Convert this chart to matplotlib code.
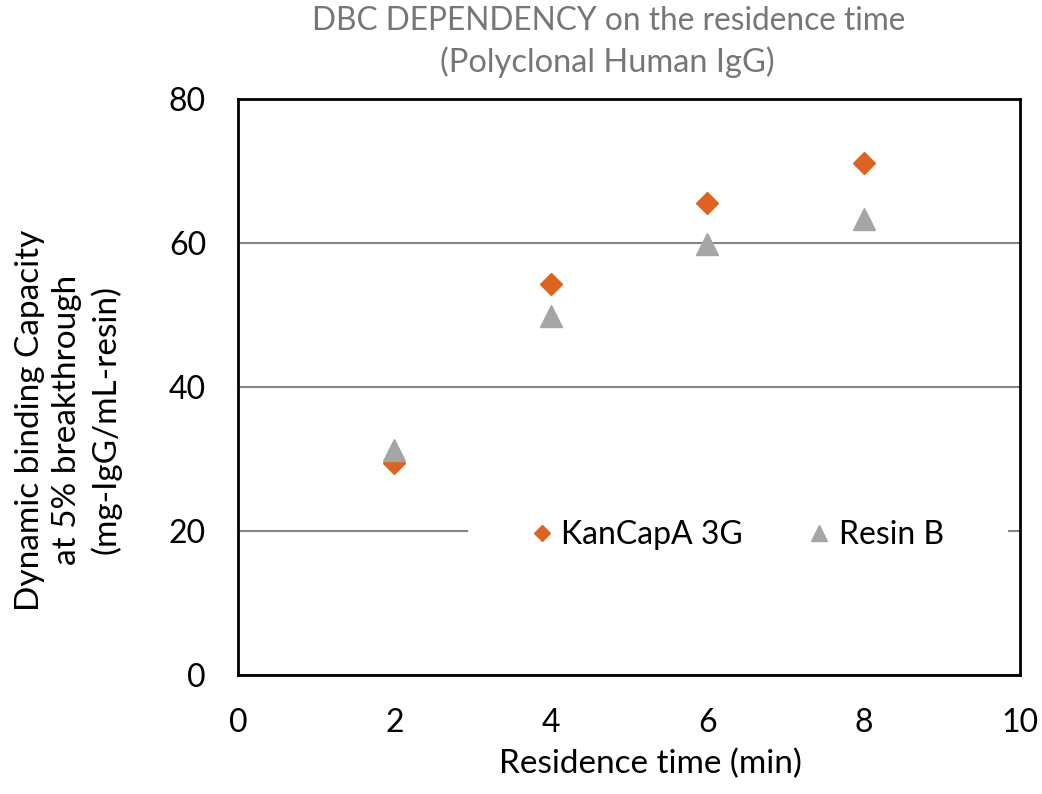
import matplotlib
matplotlib.use("Agg")
import matplotlib.pyplot as plt

plt.rcParams['font.family'] = ['Lato', 'DejaVu Sans']

residence_time = [2, 4, 6, 8]
kancapa_3g = [29.5, 54.3, 65.6, 71.1]
resin_b = [31.3, 49.8, 59.8, 63.4]
series_names = ["KanCapA 3G", "Resin B"]
x_ticks = [0, 2, 4, 6, 8, 10]
y_ticks = [0, 20, 40, 60, 80]

fig = plt.figure(figsize=(10.42, 7.94), dpi=100)
ax = fig.add_axes([238/1042, 1-675/794, (1020-238)/1042, (675-99)/794])

ax.plot(residence_time, resin_b, linestyle='none', marker='^', markersize=16.5,
        color='#A5A5A5', label=series_names[1], zorder=3)
ax.plot(residence_time, kancapa_3g, linestyle='none', marker='D', markersize=11.2,
        color='#DD6420', label=series_names[0], zorder=2)

ax.set_xlim(0, 10)
ax.set_ylim(0, 80)
ax.set_xticks(x_ticks)
ax.set_yticks(y_ticks)
ax.tick_params(length=0, labelsize=23)
ax.tick_params(axis='x', pad=24)
ax.tick_params(axis='y', pad=23)
ax.grid(axis='y', color='#868686', linewidth=1.5)
ax.set_axisbelow(True)
for s in ax.spines.values():
    s.set_linewidth(2)
    s.set_color('black')

handles, labels = ax.get_legend_handles_labels()
leg = fig.legend([handles[1], handles[0]], [labels[1], labels[0]], loc='center',
                 bbox_to_anchor=(738/1042, 1-535/794), ncol=2, fontsize=23,
                 frameon=True, fancybox=False, edgecolor='none', facecolor='white',
                 framealpha=1, handletextpad=0.3, columnspacing=2.1,
                 markerscale=0.72, handlelength=0.6, borderpad=2.0, borderaxespad=0)

fig.text(609/1042, 1-21/794, "DBC DEPENDENCY on the residence time", ha='center', va='center',
         fontsize=22.8, color='#767676')
fig.text(607/1042, 1-62/794, "(Polyclonal Human IgG)", ha='center', va='center',
         fontsize=23.5, color='#767676')
fig.text(650/1042, 1-764/794, "Residence time (min)", ha='center', va='center', fontsize=24)
fig.text(68/1042, 1-420/794, "Dynamic binding Capacity\nat 5% breakthrough\n(mg-IgG/mL-resin)",
         ha='center', va='center', rotation=90, fontsize=24, multialignment='center',
         linespacing=1.3)

fig.savefig("out.png", dpi=100)
